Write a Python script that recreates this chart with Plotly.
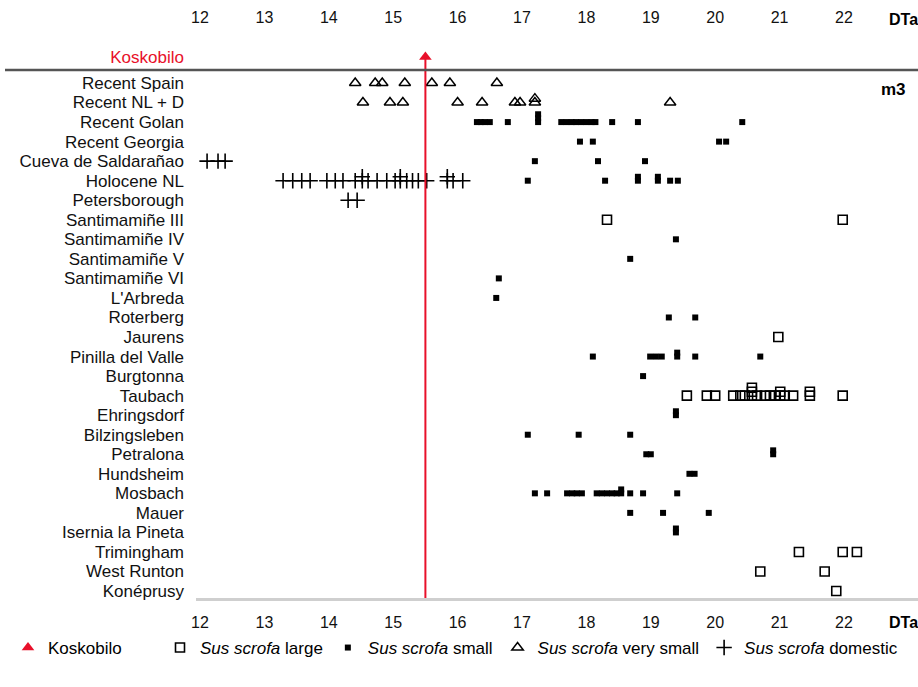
import plotly.graph_objects as go

# ---------------- data ----------------
sites = [
    "Recent Spain", "Recent NL + D", "Recent Golan", "Recent Georgia",
    "Cueva de Saldarañao", "Holocene NL", "Petersborough", "Santimamiñe III",
    "Santimamiñe IV", "Santimamiñe V", "Santimamiñe VI", "L'Arbreda",
    "Roterberg", "Jaurens", "Pinilla del Valle", "Burgtonna", "Taubach",
    "Ehringsdorf", "Bilzingsleben", "Petralona", "Hundsheim", "Mosbach",
    "Mauer", "Isernia la Pineta", "Trimingham", "West Runton", "Konéprusy",
]

koskobilo_dta = 15.5

large = {
    "Santimamiñe III": [18.32, 21.98],
    "Jaurens": [20.98],
    "Taubach": [19.56, 19.87, 20.00, 20.28, 20.39, 20.46, 20.57, 20.57, 20.57,
                20.65, 20.77, 20.85, 20.93, 21.01, 21.01, 21.08, 21.21, 21.47,
                21.47, 21.98],
    "Trimingham": [21.30, 21.98, 22.20],
    "West Runton": [20.70, 21.70],
    "Konéprusy": [21.88],
}

small = {
    "Recent Golan": [16.30, 16.36, 16.42, 16.50, 16.78, 17.25, 17.25, 17.25,
                     17.61, 17.69, 17.77, 17.84, 17.92, 18.00, 18.08, 18.14,
                     18.40, 18.80, 20.42],
    "Recent Georgia": [17.90, 18.10, 20.06, 20.17],
    "Cueva de Saldarañao": [17.20, 18.18, 18.91],
    "Holocene NL": [17.09, 18.29, 18.80, 18.80, 19.11, 19.11, 19.30, 19.42],
    "Santimamiñe IV": [19.39],
    "Santimamiñe V": [18.68],
    "Santimamiñe VI": [16.64],
    "L'Arbreda": [16.60],
    "Roterberg": [19.28, 19.69],
    "Pinilla del Valle": [18.10, 18.99, 19.08, 19.17, 19.41, 19.41, 19.69, 20.70],
    "Burgtonna": [18.88],
    "Ehringsdorf": [19.39, 19.39],
    "Bilzingsleben": [17.09, 17.88, 18.68],
    "Petralona": [18.93, 19.00, 20.90, 20.90],
    "Hundsheim": [19.60, 19.68],
    "Mosbach": [17.20, 17.39, 17.70, 17.78, 17.85, 17.93, 18.16, 18.24, 18.32,
                18.40, 18.47, 18.54, 18.54, 18.68, 18.88, 19.41],
    "Mauer": [18.68, 19.19, 19.90],
    "Isernia la Pineta": [19.39, 19.39],
}

very_small = {
    "Recent Spain": [14.41, 14.72, 14.83, 15.18, 15.60, 15.88, 16.61],
    "Recent NL + D": [14.53, 14.95, 15.15, 16.00, 16.38, 16.89, 16.97, 17.20,
                      17.20, 19.30],
}

domestic = {
    "Cueva de Saldarañao": [12.11, 12.28, 12.39],
    "Holocene NL": [13.29, 13.44, 13.58, 13.71, 13.97, 14.10, 14.22, 14.41,
                    14.52, 14.52, 14.61, 14.75, 14.90, 15.03, 15.11, 15.11,
                    15.21, 15.30, 15.39, 15.52, 15.84, 15.84, 15.93, 16.08],
    "Petersborough": [14.30, 14.44],
}

x_ticks = list(range(12, 23))

# ---------------- layout geometry ----------------
W, H = 918, 687
ML, MR, MT, MB = 196, 0, 30, 89
PW, PH = W - ML - MR, H - MT - MB
px_per_unit = 64.4
x_left = 12 + (ML - 200) / px_per_unit
x_right = 12 + (W - MR - 200) / px_per_unit
row_px = 19.54
y_top = -(83 - MT) / row_px
y_bot = (H - MB - 83) / row_px
kosko_row = -(83 - 57) / row_px
sep_row = -(83 - 70) / row_px
STACK = 0.2

FONT = "Liberation Sans, Arial, sans-serif"
RED = "#e8102a"


def points(series):
    xs, ys = [], []
    for site, vals in series.items():
        r = sites.index(site)
        seen = {}
        for v in vals:
            k = seen.get(v, 0)
            seen[v] = k + 1
            xs.append(v)
            ys.append(r - k * STACK)
    return xs, ys


fig = go.Figure()

specs = [
    (large, "<i>Sus scrofa</i> large", dict(symbol="square-open", size=9,
                                             color="black", line=dict(width=1.6, color="black")), 2),
    (small, "<i>Sus scrofa</i> small", dict(symbol="square", size=6,
                                             color="black", line=dict(width=0)), 3),
    (very_small, "<i>Sus scrofa</i> very small", dict(symbol="triangle-up-open", size=10,
                                                       color="black", line=dict(width=1.5, color="black")), 4),
    (domestic, "<i>Sus scrofa</i> domestic", dict(symbol="cross-thin-open", size=11,
                                                   color="black", line=dict(width=1.6, color="black")), 5),
]
for series, name, mk, rank in specs:
    xs, ys = points(series)
    fig.add_trace(go.Scatter(x=xs, y=ys, mode="markers", name=name, marker=mk,
                             legendrank=rank, cliponaxis=False, legend="legend2"))

# Koskobilo vertical line + marker
fig.add_trace(go.Scatter(x=[koskobilo_dta, koskobilo_dta], y=[kosko_row, y_bot],
                         mode="lines", line=dict(color=RED, width=2),
                         showlegend=False, hoverinfo="skip", xaxis="x2"))
fig.add_trace(go.Scatter(x=[koskobilo_dta], y=[kosko_row], mode="markers",
                         name="Koskobilo", legendrank=1, cliponaxis=False,
                         legend="legend",
                         marker=dict(symbol="triangle-up", size=11, color=RED)))

tickvals = [kosko_row] + list(range(len(sites)))
ticktext = ['<span style="color:%s">Koskobilo</span>' % RED] + sites

axis_common = dict(range=[x_left, x_right], tickvals=x_ticks,
                   ticktext=[str(t) for t in x_ticks], showgrid=False,
                   zeroline=False, ticks="", tickfont=dict(size=16, color="#111"),
                   automargin=False)

legend_common = dict(orientation="h", xref="paper", yref="paper",
                     y=-(648 - (H - MB)) / PH, xanchor="left", yanchor="middle",
                     font=dict(size=17, family=FONT), itemwidth=30,
                     traceorder="normal", bgcolor="rgba(0,0,0,0)")

fig.update_layout(
    width=W, height=H,
    margin=dict(l=ML, r=MR, t=MT, b=MB, pad=0, autoexpand=False),
    paper_bgcolor="white", plot_bgcolor="white",
    font=dict(family=FONT, color="black"),
    xaxis=dict(**axis_common, showline=True, linecolor="#cfcfcf", linewidth=3,
               ticklabelstandoff=8),
    xaxis2=dict(**axis_common, overlaying="x", side="top", showline=False,
                ticklabelstandoff=3),
    yaxis=dict(range=[y_bot, y_top], tickvals=tickvals, ticktext=ticktext,
               showgrid=False, zeroline=False, ticks="", showline=False,
               tickfont=dict(size=17, color="#111"), ticklabelstandoff=11,
               automargin=False),
    showlegend=True,
    legend=dict(**legend_common, x=(8 - ML) / PW),
    legend2=dict(**legend_common, x=(160 - ML) / PW),
    shapes=[
        dict(type="line", xref="paper", yref="y", x0=(5 - ML) / PW, x1=1,
             y0=sep_row, y1=sep_row, line=dict(color="#555555", width=2.5)),
    ],
    annotations=[
        dict(text="<b>DTa</b>", xref="paper", yref="paper",
             x=(903 - ML) / PW, y=1 + (MT - 20) / PH,
             showarrow=False, font=dict(size=16), xanchor="center", yanchor="middle"),
        dict(text="<b>DTa</b>", xref="paper", yref="paper",
             x=(903 - ML) / PW, y=-(622 - (H - MB)) / PH,
             showarrow=False, font=dict(size=16), xanchor="center", yanchor="middle"),
        dict(text="<b>m3</b>", xref="paper", yref="paper",
             x=(893 - ML) / PW, y=(H - MB - 90) / PH,
             showarrow=False, font=dict(size=17), xanchor="center", yanchor="middle"),
    ],
)

fig.write_html("out.html", config={"displayModeBar": False},
               post_script="document.body.style.margin='0';document.body.style.overflow='hidden';")
